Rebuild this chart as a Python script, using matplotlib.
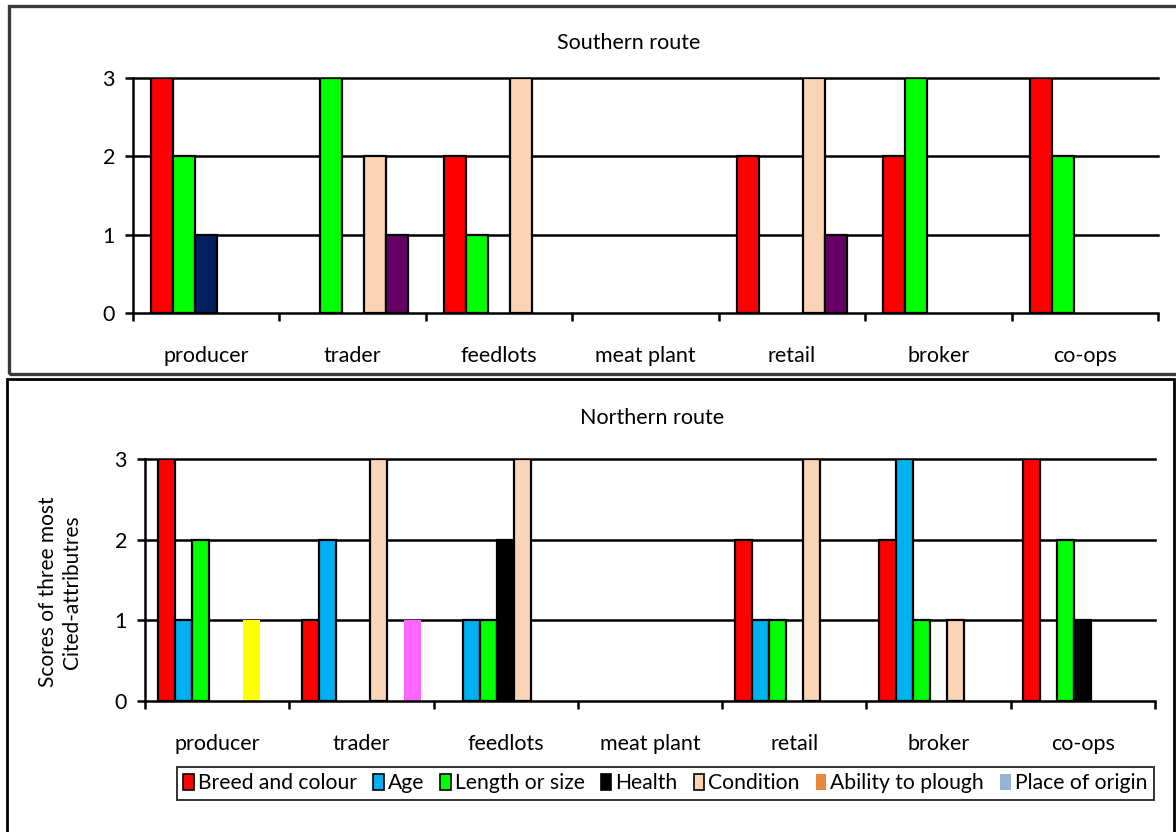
import matplotlib
matplotlib.use("Agg")
import matplotlib.pyplot as plt
from matplotlib.patches import Rectangle, Patch
import numpy as np

plt.rcParams['font.family'] = ['Lato', 'DejaVu Sans']

categories = ["producer", "trader", "feedlots", "meat plant", "retail", "broker", "co-ops"]

# Southern route (5 series drawn in the top panel)
south_names = ["Breed and colour", "Length or size", "Series 3", "Condition", "Series 5"]
south_colors = ["#FF0000", "#00FF00", "#002060", "#FAD4B4", "#660066"]
south_breed = [3, 0, 2, 0, 2, 2, 3]
south_length = [2, 3, 1, 0, 0, 3, 2]
south_s3 = [1, 0, 0, 0, 0, 0, 0]
south_condition = [0, 2, 3, 0, 3, 0, 0]
south_s5 = [0, 1, 0, 0, 1, 0, 0]
south_values = [south_breed, south_length, south_s3, south_condition, south_s5]

# Northern route (7 series drawn in the bottom panel)
north_names = ["Breed and colour", "Age", "Length or size", "Health", "Condition",
               "Ability to plough", "Place of origin"]
north_colors = ["#FF0000", "#00B0F0", "#00FF00", "#000000", "#FAD4B4", "#FFFF00", "#FF66FF"]
north_breed = [3, 1, 0, 0, 2, 2, 3]
north_age = [1, 2, 1, 0, 1, 3, 0]
north_length = [2, 0, 1, 0, 1, 1, 2]
north_health = [0, 0, 2, 0, 0, 0, 1]
north_condition = [0, 3, 3, 0, 3, 1, 0]
north_plough = [1, 0, 0, 0, 0, 0, 0]
north_origin = [0, 1, 0, 0, 0, 0, 0]
north_values = [north_breed, north_age, north_length, north_health, north_condition,
                north_plough, north_origin]
north_edges = [True, True, True, True, True, False, False]

legend_labels = north_names
legend_colors = ["#FF0000", "#00B0F0", "#00FF00", "#000000", "#FAD4B4", "#E8883A", "#95B3D7"]
legend_edges = [True, True, True, True, True, False, False]

W, H = 1176, 832
fig = plt.figure(figsize=(W / 100, H / 100), dpi=100)
fig.patch.set_facecolor("white")


def fx(px):
    return px / W


def fy(py):
    return 1 - py / H


def axes_px(left, top, right, bottom):
    return fig.add_axes([fx(left), fy(bottom), (right - left) / W, (bottom - top) / H])


FS = 15.5


def style_panel(ax, values, colors, edges, width):
    n = len(values)
    x = np.arange(len(categories))
    for k, (vals, col, edg) in enumerate(zip(values, colors, edges)):
        off = (k - (n - 1) / 2) * width
        xs = [xi + off for xi, v in zip(x, vals) if v > 0]
        hs = [v for v in vals if v > 0]
        ax.bar(xs, hs, width=width, color=col,
               edgecolor="black" if edg else "none",
               linewidth=1.6 if edg else 0, zorder=3)
    for yv in [1, 2, 3]:
        ax.axhline(yv, color="black", lw=1.8, zorder=1, clip_on=False)
    ax.set_xlim(-0.5, len(categories) - 0.5)
    ax.set_ylim(0, 3)
    ax.set_yticks([0, 1, 2, 3])
    ax.tick_params(axis="y", direction="out", length=6, width=1.8, labelsize=FS, pad=7)
    ax.set_xticks(x)
    ax.set_xticklabels(categories)
    ax.tick_params(axis="x", which="major", length=0, labelsize=FS, pad=24)
    ax.set_xticks(np.arange(len(categories) + 1) - 0.5, minor=True)
    ax.tick_params(axis="x", which="minor", direction="out", length=6, width=1.8)
    for s in ["top", "right"]:
        ax.spines[s].set_visible(False)
    for s in ["left", "bottom"]:
        ax.spines[s].set_linewidth(1.8)
        ax.spines[s].set_color("black")
        ax.spines[s].set_zorder(4)
    ax.set_facecolor("none")


# Frames
fig.patches.append(Rectangle((fx(8.5), fy(374)), (1190 - 8.5) / W, (374 - 5.5) / H,
                             transform=fig.transFigure, fill=False,
                             edgecolor="#3a3a3a", lw=2.4, zorder=0))
fig.patches.append(Rectangle((fx(6.5), fy(845)), (1174 - 6.5) / W, (845 - 378.5) / H,
                             transform=fig.transFigure, fill=False,
                             edgecolor="black", lw=2.0, zorder=0))

# Top panel
ax1 = axes_px(133, 78, 1158, 313)
style_panel(ax1, south_values, south_colors, [True] * 5, 0.15)
fig.text(fx(629), fy(43), "Southern route", ha="center", va="center", fontsize=FS)

# Bottom panel
ax2 = axes_px(145, 459, 1155, 701)
style_panel(ax2, north_values, north_colors, north_edges, 0.118)
fig.text(fx(652), fy(418), "Northern route", ha="center", va="center", fontsize=FS)
fig.text(fx(60), fy(592), "Scores of three most\nCited-attributres", rotation=90,
         ha="center", va="center", multialignment="center", fontsize=FS - 0.5,
         linespacing=1.25)

handles = [Patch(facecolor=c, edgecolor="black" if e else "none", lw=1.2 if e else 0)
           for c, e in zip(legend_colors, legend_edges)]
leg = fig.legend(handles, legend_labels, loc="upper left",
                 bbox_to_anchor=(fx(177), fy(767)), bbox_transform=fig.transFigure,
                 ncol=7, fontsize=FS - 0.3, frameon=True, fancybox=False, shadow=False,
                 handlelength=0.5, handleheight=0.8, handletextpad=0.2,
                 columnspacing=0.75, borderpad=0.3, borderaxespad=0)
leg.get_frame().set_edgecolor("black")
leg.get_frame().set_linewidth(1.4)

fig.savefig("out.png", dpi=100, facecolor="white")
